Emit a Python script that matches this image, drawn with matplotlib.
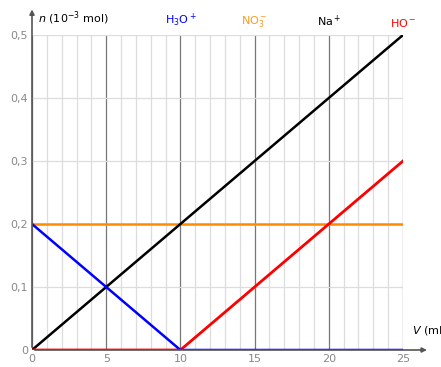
import numpy as np
import matplotlib.pyplot as plt

V = [0, 5, 10, 15, 20, 25]
n_H3O = [0.2, 0.1, 0.0, 0.0, 0.0, 0.0]
n_NO3 = [0.2, 0.2, 0.2, 0.2, 0.2, 0.2]
n_Na = [0.0, 0.1, 0.2, 0.3, 0.4, 0.5]
n_HO = [0.0, 0.0, 0.0, 0.1, 0.2, 0.3]

species = ["H$_3$O$^+$", "NO$_3^-$", "Na$^+$", "HO$^-$"]
species_x = [10, 15, 20, 25]
species_col = ["#0000ff", "#ff9a1f", "#000000", "#ff0000"]

fig = plt.figure(figsize=(4.41, 3.67), dpi=100)
ax = fig.add_axes([32 / 441, 17 / 367, 371 / 441, 315 / 367])
ax.set_xlim(0, 25)
ax.set_ylim(0, 0.5)

# grid
for x in range(26):
    if x % 5 == 0:
        ax.axvline(x, color="#777777", lw=0.9, zorder=0)
    else:
        ax.axvline(x, color="#dddddd", lw=0.9, zorder=0)
for y in np.arange(0.1, 0.51, 0.1):
    ax.axhline(y, color="#dddddd", lw=0.9, zorder=0)

for s in ax.spines.values():
    s.set_visible(False)

ax.plot(V, n_NO3, color="#ff8c00", lw=1.8, zorder=3)
ax.plot(V, n_Na, color="black", lw=1.8, zorder=3)
ax.plot(V, n_HO, color="#ff0000", lw=2, zorder=4)
ax.plot(V, n_H3O, color="#0000ff", lw=1.8, zorder=5)

# axes with arrows
ax.annotate("", xy=(0, 0.545), xytext=(0, 0), xycoords="data",
            arrowprops=dict(arrowstyle="-|>", color="#555555", lw=1.2, mutation_scale=7),
            annotation_clip=False, zorder=6)
ax.annotate("", xy=(26.8, 0), xytext=(0, 0), xycoords="data",
            arrowprops=dict(arrowstyle="-|>", color="#555555", lw=1.2, mutation_scale=7),
            annotation_clip=False, zorder=6)

ax.set_xticks(range(0, 26, 5))
ax.set_yticks(np.arange(0, 0.51, 0.1))
ax.set_yticklabels(["0", "0,1", "0,2", "0,3", "0,4", "0,5"])
ax.tick_params(length=0, labelsize=8, colors="#888888", pad=3)

ax.text(0.4, 0.512, "$n$ (10$^{-3}$ mol)", fontsize=8, va="bottom", ha="left")
ax.text(25.6, 0.02, "$V$ (mL", fontsize=8, va="bottom", ha="left")
for lab, x, c in zip(species, species_x, species_col):
    ax.text(x, 0.51, lab, color=c, fontsize=8, ha="center", va="bottom")

fig.savefig("out.png", dpi=100)
